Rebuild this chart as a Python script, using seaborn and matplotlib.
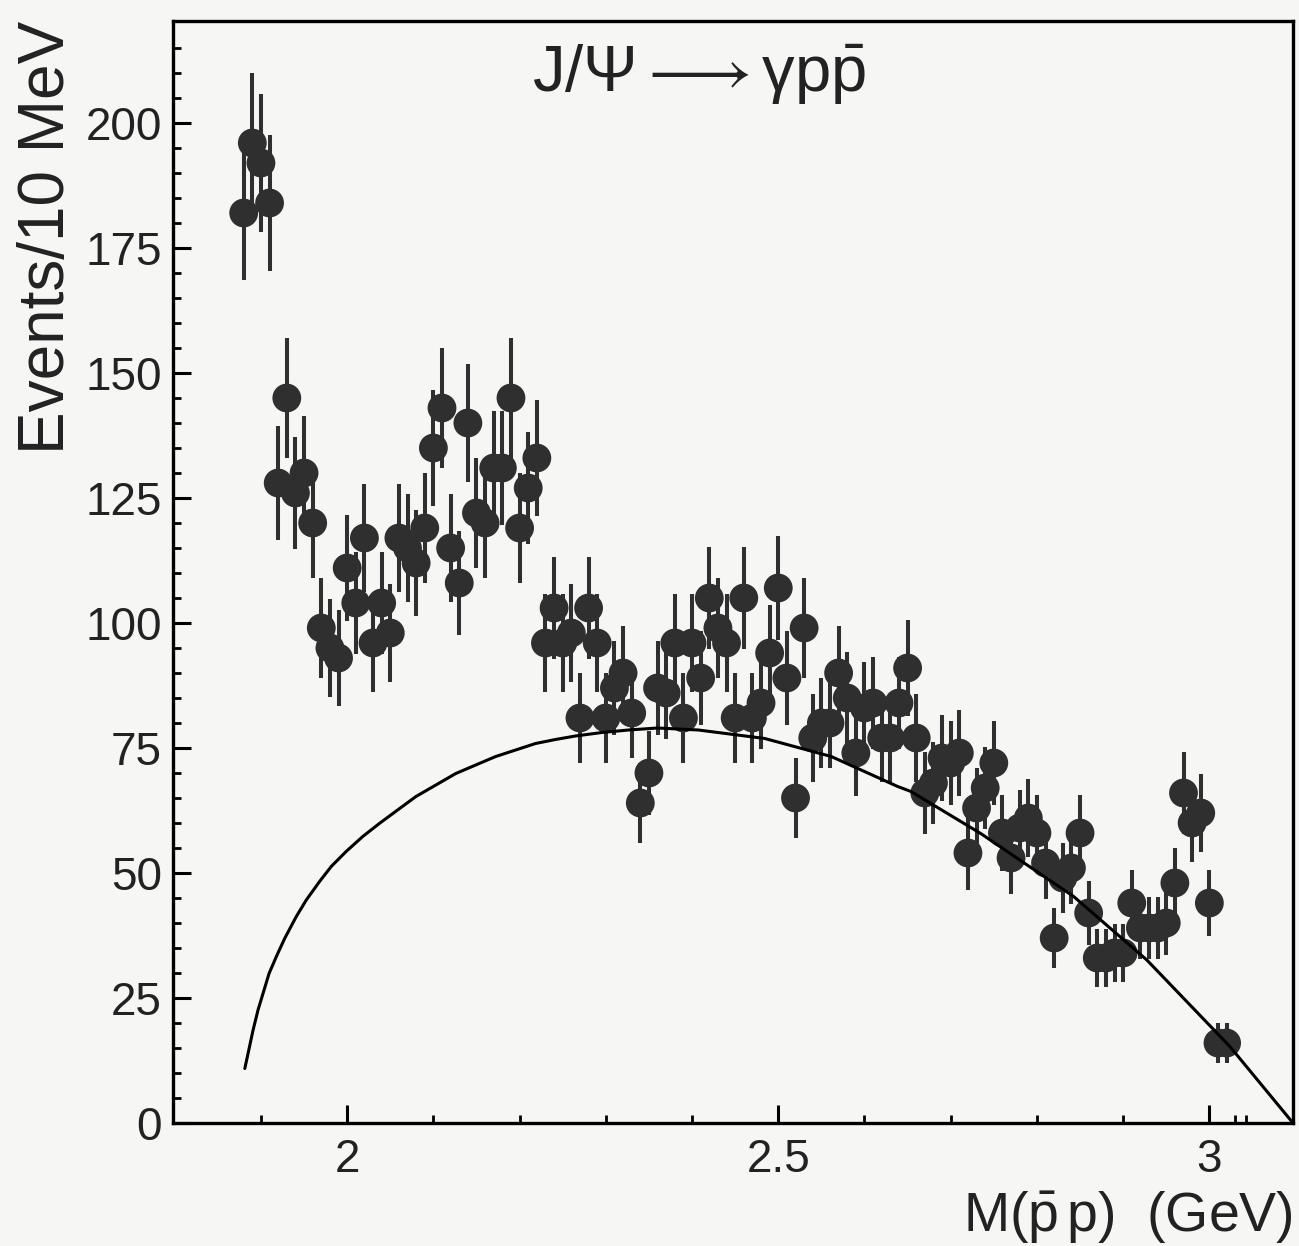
import numpy as np
import pandas as pd
import matplotlib
matplotlib.use("Agg")
import matplotlib.pyplot as plt
import seaborn as sns
from matplotlib.ticker import FixedLocator

# ---- data ----
counts = [182, 196, 192, 184, 128, 145, 126, 130, 120, 99,
          95, 93, 111, 104, 117, 96, 104, 98, 117, 115,
          112, 119, 135, 143, 115, 108, 140, 122, 120, 131,
          131, 145, 119, 127, 133, 96, 103, 96, 98, 81,
          103, 96, 81, 87, 90, 82, 64, 70, 87, 86,
          96, 81, 96, 89, 105, 99, 96, 81, 105, 81,
          84, 94, 107, 89, 65, 99, 77, 80, 80, 90,
          85, 74, 83, 84, 77, 77, 84, 91, 77, 66,
          68, 73, 72, 74, 54, 63, 67, 72, 58, 53,
          59, 61, 58, 52, 37, 49, 51, 58, 42, 33,
          33, 34, 34, 44, 39, 39, 39, 40, 48, 66,
          60, 62, 44, 16, 16]
bin_centers = np.round(1.88 + 0.01 * np.arange(len(counts)), 3)
errors = np.sqrt(np.array(counts, dtype=float))

curve_m = [1.8813, 1.8909, 1.8966, 1.9024, 1.9094, 1.9179, 1.9275, 1.9410,
           1.9526, 1.9680, 1.9815, 1.9988, 2.0181, 2.0373, 2.0585, 2.0798,
           2.1029, 2.1260, 2.1491, 2.1723, 2.1954, 2.2185, 2.2416, 2.2647,
           2.2955, 2.3264, 2.3600, 2.4073, 2.4844, 2.5614, 2.5923, 2.6385,
           2.6539, 2.7348, 2.8426, 2.9275, 3.0238, 3.0970]
curve_v = [10.9, 18.6, 22.6, 25.9, 29.9, 33.3, 36.9, 41.3,
           44.6, 48.3, 51.3, 54.3, 57.3, 59.9, 62.6, 65.3,
           67.6, 69.9, 71.6, 73.3, 74.6, 75.9, 76.7, 77.4,
           78.1, 78.6, 79.0, 78.6, 76.9, 73.3, 70.9, 67.3,
           66.3, 57.9, 45.3, 32.6, 15.3, 0.0]

y_major = [0, 25, 50, 75, 100, 125, 150, 175, 200]
y_major_labels = ["0", "25", "50", "75", "100", "125", "150", "175", "200"]
x_major = [2.0, 2.5, 3.0]
x_major_labels = ["2", "2.5", "3"]
x_minor = [1.9, 2.1, 2.2, 2.3, 2.4, 2.6, 2.7, 2.8, 2.9, 3.03, 3.042]

df = pd.DataFrame({"mass": bin_centers, "events": counts, "err": errors})
curve = pd.DataFrame({"mass": curve_m, "fit": curve_v})

# ---- style ----
sns.set_theme(style="ticks")
plt.rcParams["font.family"] = ["Liberation Sans", "DejaVu Sans"]
plt.rcParams["mathtext.fontset"] = "custom"
plt.rcParams["mathtext.rm"] = "Liberation Sans"
plt.rcParams["mathtext.it"] = "Liberation Sans"
plt.rcParams["mathtext.sf"] = "Liberation Sans"

bg = "#f6f6f4"
ink = "#2f2f2f"
txt = "#222222"

fig = plt.figure(figsize=(12.99, 12.46), dpi=100, facecolor=bg)
ax = fig.add_axes([173 / 1299, 1 - 1123 / 1246, 1120 / 1299, 1102 / 1246])
ax.set_facecolor(bg)

ax.errorbar(df["mass"], df["events"], yerr=df["err"], fmt="none",
            ecolor=ink, elinewidth=2.9, capsize=0, zorder=2)
sns.scatterplot(data=df, x="mass", y="events", s=430, color=ink,
                edgecolor="none", linewidth=0, ax=ax, zorder=3, legend=False)
sns.lineplot(data=curve, x="mass", y="fit", color="black", linewidth=2.2,
             sort=False, estimator=None, ax=ax, zorder=4)

ax.set_xlim(1.798, 3.097)
ax.set_ylim(0, 220.4)

ax.set_xticks(x_major)
ax.set_xticklabels(x_major_labels)
ax.xaxis.set_minor_locator(FixedLocator(x_minor))
ax.set_yticks(y_major)
ax.set_yticklabels(y_major_labels)
ax.yaxis.set_minor_locator(FixedLocator(list(range(5, 220, 5))))

ax.tick_params(axis="both", which="major", direction="in", length=13,
               width=2.2, color="black", labelsize=33, labelcolor=txt)
ax.tick_params(axis="both", which="minor", direction="in", length=6,
               width=2.0, color="black")
ax.tick_params(axis="x", which="major", pad=11)
ax.tick_params(axis="y", which="major", pad=8)
ax.tick_params(top=False, right=False, which="both")

for side in ["left", "bottom", "top", "right"]:
    ax.spines[side].set_visible(True)
    ax.spines[side].set_linewidth(2.4)
    ax.spines[side].set_color("black")

ax.set_ylabel("Events/10 MeV", fontsize=46, color=txt, loc="top")
ax.yaxis.set_label_coords(-0.086, 1.0)
ax.set_xlabel(r"$\mathregular{M(\bar{p}\,p)\ \ (GeV)}$", fontsize=40,
              color=txt, loc="right")
ax.xaxis.set_label_coords(1.0, -0.060)

ax.text(0.47, 0.951, r"$\mathregular{J/\Psi \longrightarrow \gamma p\bar{p}}$",
        transform=ax.transAxes, ha="center", va="center", fontsize=47,
        color=txt)

fig.savefig("out.png", dpi=100, facecolor=bg)
